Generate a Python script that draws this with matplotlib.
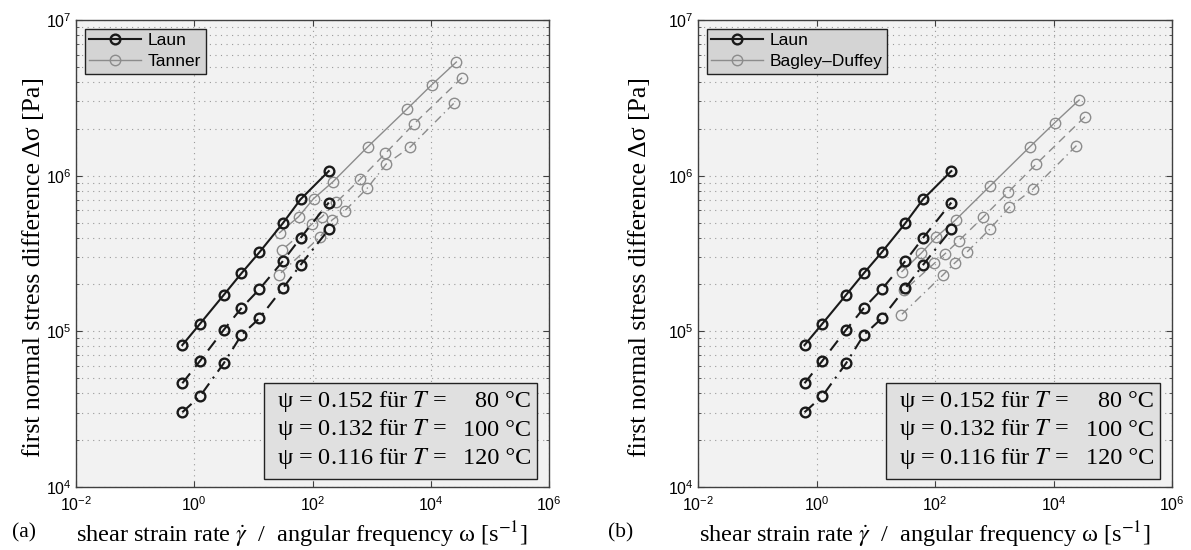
import matplotlib
matplotlib.use('Agg')
import matplotlib.pyplot as plt
from matplotlib.patches import Rectangle

# ---------------- data ----------------
laun_rate = [0.628, 1.257, 3.142, 6.283, 12.57, 31.42, 62.83, 188.5]
laun_80 = [8.16e4, 1.12e5, 1.71e5, 2.36e5, 3.21e5, 4.94e5, 7.05e5, 1.07e6]
laun_100 = [4.64e4, 6.47e4, 1.02e5, 1.41e5, 1.86e5, 2.82e5, 3.98e5, 6.72e5]
laun_120 = [3.02e4, 3.84e4, 6.22e4, 9.47e4, 1.21e5, 1.89e5, 2.67e5, 4.52e5]

rate_80 = [27100, 10520, 3972, 855, 222, 104, 58.2, 27.7]
rate_100 = [33900, 5140, 1706, 644, 253, 145, 98, 30.5]
rate_120 = [24400, 4520, 1774, 836, 349, 214, 136, 26.7]

tanner_80 = [5.37e6, 3.85e6, 2.68e6, 1.53e6, 9.14e5, 7.11e5, 5.45e5, 4.30e5]
tanner_100 = [4.26e6, 2.14e6, 1.39e6, 9.51e5, 6.75e5, 5.45e5, 4.89e5, 3.33e5]
tanner_120 = [2.91e6, 1.53e6, 1.19e6, 8.28e5, 5.93e5, 5.19e5, 4.06e5, 2.30e5]

bd_80 = [3.06e6, 2.19e6, 1.53e6, 8.61e5, 5.19e5, 4.02e5, 3.17e5, 2.42e5]
bd_100 = [2.39e6, 1.19e6, 7.82e5, 5.40e5, 3.82e5, 3.13e5, 2.74e5, 1.84e5]
bd_120 = [1.56e6, 8.20e5, 6.25e5, 4.52e5, 3.24e5, 2.74e5, 2.30e5, 1.27e5]

legend_labels = [["Laun", "Tanner"], ["Laun", "Bagley\u2013Duffey"]]
psi_lines = ["\u03c8 = 0.152 f\u00fcr $T$ =", "\u03c8 = 0.132 f\u00fcr $T$ =", "\u03c8 = 0.116 f\u00fcr $T$ ="]
temp_lines = ["80 \u00b0C", "100 \u00b0C", "120 \u00b0C"]
panel_tags = ["(a)", "(b)"]

# ---------------- style ----------------
plt.rcParams['font.family'] = ['Liberation Sans', 'DejaVu Sans']
SERIF = ['Liberation Serif', 'DejaVu Serif']
BLACK = '#1a1a1a'
GRAY = '#8c8c8c'
AX_BG = '#f2f2f2'

fig = plt.figure(figsize=(11.91, 5.5), dpi=100)
axpos = [[76/1191, 1-487/550, 473/1191, 467/550],
         [698/1191, 1-487/550, 474/1191, 467/550]]

gray_sets = [(tanner_80, tanner_100, tanner_120), (bd_80, bd_100, bd_120)]
ylab_x = [-0.066, -0.100]

for i in range(2):
    ax = fig.add_axes(axpos[i])
    ax.set_facecolor(AX_BG)
    ax.set_xscale('log')
    ax.set_yscale('log')
    ax.set_xlim(1e-2, 1e6)
    ax.set_ylim(1e4, 1e7)

    styles = ['-', (0, (6, 4)), (0, (6, 3, 1, 3))]
    laun = [laun_80, laun_100, laun_120]
    grays = gray_sets[i]
    rates = [rate_80, rate_100, rate_120]
    hl = []
    for k in range(3):
        l1, = ax.plot(laun_rate, laun[k], linestyle=styles[k], color=BLACK, lw=1.5,
                      marker='o', ms=7, mfc='none', mec=BLACK, mew=1.7, zorder=4)
        l2, = ax.plot(rates[k], grays[k], linestyle=styles[k], color=GRAY, lw=1.0,
                      marker='o', ms=7.5, mfc='none', mec=GRAY, mew=1.0, zorder=3)
        if k == 0:
            hl = [l1, l2]

    ax.set_xticks([1e-2, 1e0, 1e2, 1e4, 1e6])
    ax.set_yticks([1e4, 1e5, 1e6, 1e7])
    ax.tick_params(which='both', direction='in', top=True, right=True,
                   labelsize=11.5, color='#404040')
    ax.tick_params(axis='x', which='minor', bottom=False, top=False)
    ax.tick_params(axis='x', which='major', pad=6, length=4)
    ax.tick_params(axis='y', which='major', pad=3, length=4)
    ax.tick_params(axis='y', which='minor', length=2.5)
    ax.grid(True, which='major', axis='both', color='#9a9a9a', lw=0.8, linestyle=(0, (1, 4)))
    ax.grid(True, which='minor', axis='y', color='#9a9a9a', lw=0.8, linestyle=(0, (1, 4)))
    for sp in ax.spines.values():
        sp.set_color('#404040')
        sp.set_linewidth(1.0)

    ax.set_xlabel("shear strain rate $\\dot{\\gamma}$  /  angular frequency \u03c9 [s$^{-1}$]",
                  family=SERIF, fontsize=17.5, math_fontfamily='stix')
    ax.xaxis.set_label_coords(0.478, -0.069)
    ax.set_ylabel("first normal stress difference \u0394\u03c3 [Pa]",
                  family=SERIF, fontsize=18.5, math_fontfamily='stix')
    ax.yaxis.set_label_coords(ylab_x[i], 0.47)

    leg = ax.legend(hl, legend_labels[i], loc='upper left', fontsize=12.5,
                    handlelength=3.0, handletextpad=0.4, borderpad=0.25,
                    borderaxespad=0.5, labelspacing=0.35, fancybox=False,
                    framealpha=1.0, edgecolor='#222222', facecolor='#d4d4d4')
    leg.get_frame().set_linewidth(1.0)

    # annotation box
    x0, x1 = (264-76)/473, (537-76)/473
    y0, y1 = (487-479)/467, (487-383)/467
    ax.add_patch(Rectangle((x0, y0), x1-x0, y1-y0, transform=ax.transAxes,
                           facecolor='#e0e0e0', edgecolor='#222222', lw=1.0, zorder=6))
    base = [(487-407)/467, (487-435.5)/467, (487-464)/467]
    for j in range(3):
        ax.text((277-76)/473, base[j], psi_lines[j], transform=ax.transAxes,
                ha='left', va='baseline', family=SERIF, fontsize=17.5,
                math_fontfamily='stix', zorder=7)
        ax.text((531-76)/473, base[j], temp_lines[j], transform=ax.transAxes,
                ha='right', va='baseline', family=SERIF, fontsize=17.5, zorder=7)

fig.text(12/1191, 1-533/550, panel_tags[0], family=SERIF, fontsize=15.5, va='center', ha='left')
fig.text(608/1191, 1-533/550, panel_tags[1], family=SERIF, fontsize=15.5, va='center', ha='left')

fig.savefig('out.png', dpi=100, facecolor='white')
